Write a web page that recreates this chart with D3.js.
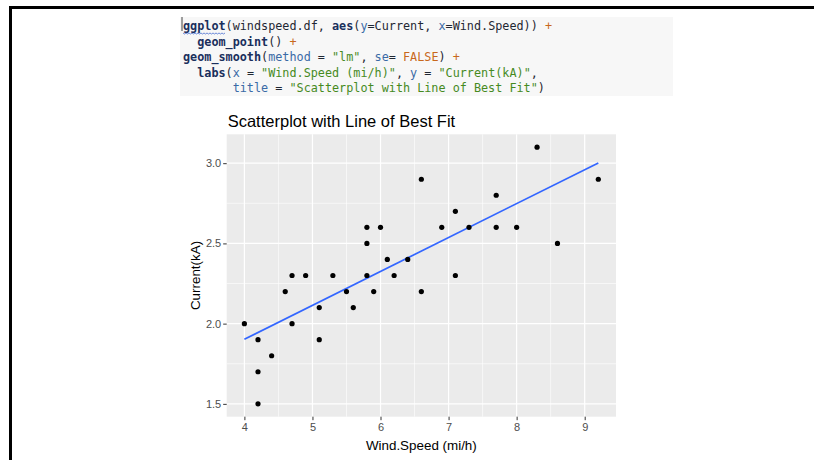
<!DOCTYPE html>
<html>
<head>
<meta charset="utf-8">
<script src="https://cdn.jsdelivr.net/npm/d3@7/dist/d3.min.js"></script>
<style>
  html, body { margin: 0; padding: 0; background: #fff; }
  svg { display: block; }
</style>
</head>
<body>
<svg id="chart" width="814" height="460"></svg>
<script>
// Wind speed (mi/h) and current (kA) observations
const windSpeed = [8.3, 6.6, 9.2, 7.7, 7.1, 5.8, 6.0, 6.9, 7.3, 7.7, 8.0, 5.8, 8.6, 6.1, 6.4,
                   4.7, 4.9, 5.3, 5.8, 6.2, 7.1, 4.6, 5.5, 5.9, 6.6, 5.1, 5.6, 4.0, 4.7, 4.2,
                   5.1, 4.4, 4.2, 4.2];
const current   = [3.1, 2.9, 2.9, 2.8, 2.7, 2.6, 2.6, 2.6, 2.6, 2.6, 2.6, 2.5, 2.5, 2.4, 2.4,
                   2.3, 2.3, 2.3, 2.3, 2.3, 2.3, 2.2, 2.2, 2.2, 2.2, 2.1, 2.1, 2.0, 2.0, 1.9,
                   1.9, 1.8, 1.7, 1.5];

const xTicks = [4, 5, 6, 7, 8, 9];
const xMinor = [4.5, 5.5, 6.5, 7.5, 8.5];
const yTicks = [1.5, 2.0, 2.5, 3.0];
const yMinor = [1.75, 2.25, 2.75];

const chartTitle = "Scatterplot with Line of Best Fit";
const xLabel = "Wind.Speed (mi/h)";
const yLabel = "Current(kA)";

// R snippet shown above the plot, as [text, style] tokens per line
const codeLines = [
  [["ggplot", "fn"], ["(windspeed.df, ", "tx"], ["aes", "fn"], ["(", "tx"], ["y", "arg"], ["=Current, ", "tx"], ["x", "arg"], ["=Wind.Speed)) ", "tx"], ["+", "op"]],
  [["  ", "tx"], ["geom_point", "fn"], ["() ", "tx"], ["+", "op"]],
  [["geom_smooth", "fn"], ["(", "tx"], ["method", "arg"], [" = ", "tx"], ["\"lm\"", "str"], [", ", "tx"], ["se", "arg"], ["= ", "tx"], ["FALSE", "op"], [") ", "tx"], ["+", "op"]],
  [["  ", "tx"], ["labs", "fn"], ["(", "tx"], ["x", "arg"], [" = ", "tx"], ["\"Wind.Speed (mi/h)\"", "str"], [", ", "tx"], ["y", "arg"], [" = ", "tx"], ["\"Current(kA)\"", "str"], [",", "tx"]],
  [["       ", "tx"], ["title", "arg"], [" = ", "tx"], ["\"Scatterplot with Line of Best Fit\"", "str"], [")", "tx"]]
];

const svg = d3.select("#chart");

// Frame lines along the top and left edge
svg.append("rect").attr("x", 9).attr("y", 6).attr("width", 805).attr("height", 3).attr("fill", "#000");
svg.append("rect").attr("x", 9).attr("y", 6).attr("width", 3).attr("height", 454).attr("fill", "#000");

// Code block
const code = svg.append("g");
code.append("rect").attr("x", 180).attr("y", 17).attr("width", 493).attr("height", 79).attr("fill", "#f7f7f7");
code.append("rect").attr("x", 181.5).attr("y", 17).attr("width", 1).attr("height", 14).attr("fill", "#444");
const tokenStyle = {
  fn:  { fill: "#1a2f5c", weight: "bold" },
  tx:  { fill: "#1f2733", weight: "normal" },
  arg: { fill: "#3a6aa6", weight: "normal" },
  str: { fill: "#468a1e", weight: "normal" },
  op:  { fill: "#c8681c", weight: "normal" }
};
codeLines.forEach((line, i) => {
  const t = code.append("text")
    .attr("transform", `translate(183,${30 + i * 15.5}) scale(1,1.08)`)
    .attr("font-family", "'DejaVu Sans Mono', 'Liberation Mono', monospace")
    .attr("font-size", 11.8)
    .attr("xml:space", "preserve")
    .style("white-space", "pre");
  line.forEach(([s, k]) => {
    t.append("tspan")
      .attr("fill", tokenStyle[k].fill)
      .attr("font-weight", tokenStyle[k].weight)
      .text(s);
  });
});
// spell-check squiggle under "ggplot"
const squiggle = d3.range(0, 43, 1.5).map((d, i) => [183 + d, 33 + (i % 2 ? 1 : 0)]);
code.append("path").attr("d", d3.line()(squiggle)).attr("fill", "none").attr("stroke", "#4a6fd1").attr("stroke-width", 0.8);

// Plot panel
const panel = { left: 226.7, right: 616, top: 134.3, bottom: 416.7 };

const xMinV = d3.min(windSpeed), xMaxV = d3.max(windSpeed);
const yMinV = d3.min(current), yMaxV = d3.max(current);
const xPad = (xMaxV - xMinV) * 0.05, yPad = (yMaxV - yMinV) * 0.05;

const x = d3.scaleLinear().domain([xMinV - xPad, xMaxV + xPad]).range([panel.left, panel.right]);
const y = d3.scaleLinear().domain([yMinV - yPad, yMaxV + yPad]).range([panel.bottom, panel.top]);

const g = svg.append("g");
g.append("rect")
  .attr("x", panel.left).attr("y", panel.top)
  .attr("width", panel.right - panel.left).attr("height", panel.bottom - panel.top)
  .attr("fill", "#ebebeb");

// Grid: minor then major
g.selectAll(".xminor").data(xMinor).join("line")
  .attr("x1", d => x(d)).attr("x2", d => x(d)).attr("y1", panel.top).attr("y2", panel.bottom)
  .attr("stroke", "#fff").attr("stroke-width", 0.6);
g.selectAll(".yminor").data(yMinor).join("line")
  .attr("y1", d => y(d)).attr("y2", d => y(d)).attr("x1", panel.left).attr("x2", panel.right)
  .attr("stroke", "#fff").attr("stroke-width", 0.6);
g.selectAll(".xmajor").data(xTicks).join("line")
  .attr("x1", d => x(d)).attr("x2", d => x(d)).attr("y1", panel.top).attr("y2", panel.bottom)
  .attr("stroke", "#fff").attr("stroke-width", 1.2);
g.selectAll(".ymajor").data(yTicks).join("line")
  .attr("y1", d => y(d)).attr("y2", d => y(d)).attr("x1", panel.left).attr("x2", panel.right)
  .attr("stroke", "#fff").attr("stroke-width", 1.2);

// Axes
const xAxis = d3.axisBottom(x).tickValues(xTicks).tickFormat(d3.format("d")).tickSize(3.5).tickPadding(3);
const yAxis = d3.axisLeft(y).tickValues(yTicks).tickFormat(d3.format(".1f")).tickSize(3.5).tickPadding(2);

const gx = svg.append("g").attr("transform", `translate(0,${panel.bottom})`).call(xAxis);
const gy = svg.append("g").attr("transform", `translate(${panel.left},0)`).call(yAxis);
[gx, gy].forEach(a => {
  a.select(".domain").remove();
  a.selectAll(".tick line").attr("stroke", "#333").attr("stroke-width", 1);
  a.selectAll(".tick text")
    .attr("fill", "#4d4d4d")
    .attr("font-family", "'Liberation Sans', Arial, sans-serif")
    .attr("font-size", 11);
});

// Least-squares line (geom_smooth, method = "lm")
const mx = d3.mean(windSpeed), my = d3.mean(current);
let sxy = 0, sxx = 0;
windSpeed.forEach((v, i) => { sxy += (v - mx) * (current[i] - my); sxx += (v - mx) * (v - mx); });
const slope = sxy / sxx, intercept = my - slope * mx;
const fitX = [xMinV, xMaxV];
g.append("path")
  .attr("d", d3.line().x(d => x(d)).y(d => y(intercept + slope * d))(fitX))
  .attr("fill", "none").attr("stroke", "#3366ff").attr("stroke-width", 1.7);

// Points
g.selectAll(".pt").data(windSpeed).join("circle")
  .attr("cx", d => x(d)).attr("cy", (d, i) => y(current[i]))
  .attr("r", 2.6).attr("fill", "#000");

// Titles
svg.append("text")
  .attr("x", panel.left + 1).attr("y", 127.3)
  .attr("font-family", "'Liberation Sans', Arial, sans-serif")
  .attr("font-size", 16.5).attr("fill", "#000")
  .text(chartTitle);

svg.append("text")
  .attr("x", (panel.left + panel.right) / 2).attr("y", 450)
  .attr("text-anchor", "middle")
  .attr("font-family", "'Liberation Sans', Arial, sans-serif")
  .attr("font-size", 13.4).attr("fill", "#000")
  .text(xLabel);

svg.append("text")
  .attr("transform", `translate(200,${(panel.top + panel.bottom) / 2}) rotate(-90)`)
  .attr("text-anchor", "middle")
  .attr("font-family", "'Liberation Sans', Arial, sans-serif")
  .attr("font-size", 13.4).attr("fill", "#000")
  .text(yLabel);
</script>
</body>
</html>
